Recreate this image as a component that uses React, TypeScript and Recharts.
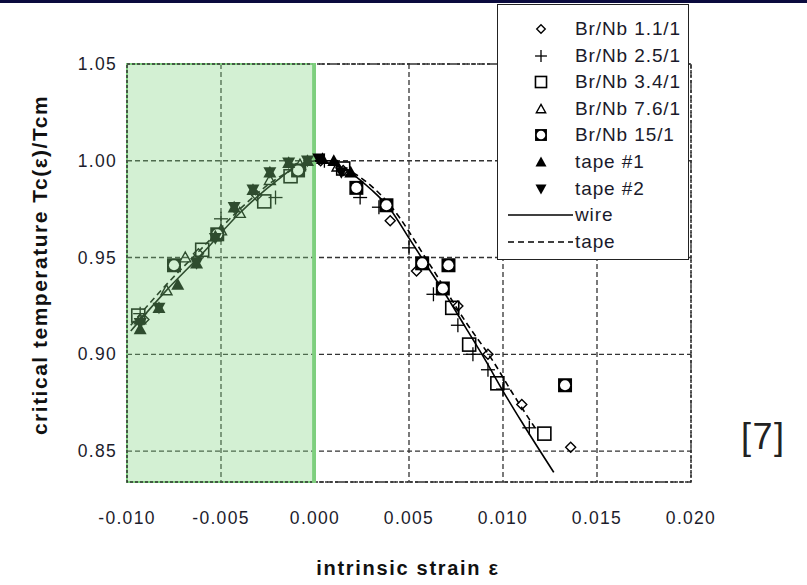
import React from "react";
import {
  ScatterChart,
  Scatter,
  XAxis,
  YAxis,
  CartesianGrid,
  ReferenceArea,
} from "recharts";

// Br/Nb 1.1/1 (open diamonds)
const br11X = [-0.0091, -0.0062, -0.0031, -0.001, 0.0003, 0.0015, 0.004, 0.0054, 0.0076, 0.0092, 0.011, 0.0136];
const br11Y = [0.918, 0.952, 0.982, 0.996, 1.0, 0.995, 0.969, 0.943, 0.925, 0.9, 0.874, 0.852];
// Br/Nb 2.5/1 (plus)
const br25X = [-0.0093, -0.005, -0.0021, -0.0005, 0.0005, 0.0024, 0.0034, 0.005, 0.0063, 0.0076, 0.0084, 0.0092, 0.01, 0.0114];
const br25Y = [0.921, 0.97, 0.981, 0.998, 1.0, 0.981, 0.976, 0.955, 0.931, 0.915, 0.9, 0.892, 0.882, 0.862];
// Br/Nb 3.4/1 (open squares)
const br34X = [-0.0094, -0.006, -0.0027, -0.0013, 0.0015, 0.0073, 0.0082, 0.0097, 0.0122];
const br34Y = [0.92, 0.954, 0.979, 0.992, 0.996, 0.924, 0.905, 0.885, 0.859];
// Br/Nb 7.6/1 (open triangles)
const br76X = [-0.0093, -0.0079, -0.0069, -0.005, -0.004, -0.0024, -0.0008, 0.0012];
const br76Y = [0.918, 0.933, 0.95, 0.964, 0.973, 0.99, 0.998, 0.997];
// Br/Nb 15/1 (bold squares)
const br15X = [-0.0075, -0.0052, -0.0009, 0.0022, 0.0038, 0.0057, 0.0068, 0.0071, 0.0133];
const br15Y = [0.946, 0.962, 0.995, 0.986, 0.977, 0.947, 0.934, 0.946, 0.884];
// tape #1 (filled up triangles)
const tape1X = [-0.0093, -0.0083, -0.0073, -0.0063, -0.0053, -0.0043, -0.0033, -0.0024, -0.0014, -0.0004, 0.0004, 0.001, 0.0019];
const tape1Y = [0.913, 0.924, 0.936, 0.947, 0.961, 0.976, 0.985, 0.994, 0.999, 1.0, 1.001, 1.0, 0.994];
// tape #2 (filled down triangles)
const tape2X = [-0.0093, -0.0083, -0.0063, -0.0053, -0.0043, -0.0033, -0.0024, -0.0014, -0.0004, 0.0002, 0.0014];
const tape2Y = [0.916, 0.924, 0.947, 0.96, 0.976, 0.985, 0.994, 0.999, 1.0, 1.001, 0.994];

// fitted curves: compressive side and tensile side
const wireLeftX = [-0.0098, -0.008, -0.006, -0.004, -0.002, -0.001, 0];
const wireLeftY = [0.912, 0.932, 0.952, 0.973, 0.99, 0.997, 1.0];
const wireRightX = [0, 0.001, 0.002, 0.003, 0.004, 0.005, 0.006, 0.007, 0.008, 0.009, 0.01, 0.011, 0.0127];
const wireRightY = [1.0, 0.998, 0.993, 0.985, 0.975, 0.96, 0.945, 0.93, 0.914, 0.898, 0.881, 0.865, 0.839];
const tapeLeftX = [-0.0098, -0.008, -0.006, -0.004, -0.002, 0];
const tapeLeftY = [0.915, 0.935, 0.955, 0.975, 0.991, 1.0];
const tapeRightX = [0, 0.002, 0.004, 0.006, 0.008, 0.0095, 0.0105, 0.0117];
const tapeRightY = [1.0, 0.994, 0.977, 0.948, 0.917, 0.896, 0.88, 0.862];

const xTicks = [-0.01, -0.005, 0, 0.005, 0.01, 0.015, 0.02];
const yTicks = [0.85, 0.9, 0.95, 1.0, 1.05];

const legendLabels = ["Br/Nb 1.1/1", "Br/Nb 2.5/1", "Br/Nb 3.4/1", "Br/Nb 7.6/1", "Br/Nb 15/1", "tape #1", "tape #2", "wire", "tape"];
const legendKinds = ["diamond", "plus", "square", "triOpen", "bold", "triUp", "triDown", "wire", "tape"];

const zip = (xs: number[], ys: number[]) => xs.map((x, i) => ({ x, y: ys[i] }));

const DARK_GREEN = "#2e4c2e";
const LIGHT_GREEN = "#d3f0d3";

function Marker({ kind, cx, cy, color, bg, s = 1 }: any) {
  if (cx == null || cy == null) return <g />;
  switch (kind) {
    case "diamond": {
      const r = 5 * s;
      return <polygon points={`${cx},${cy - r} ${cx + r},${cy} ${cx},${cy + r} ${cx - r},${cy}`} fill="none" stroke={color} strokeWidth={1.4} />;
    }
    case "plus": {
      const r = 7 * s;
      return (
        <g stroke={color} strokeWidth={1.3}>
          <line x1={cx - r} y1={cy} x2={cx + r} y2={cy} />
          <line x1={cx} y1={cy - r} x2={cx} y2={cy + r} />
        </g>
      );
    }
    case "square": {
      const r = 6.5 * s;
      return <rect x={cx - r} y={cy - r} width={2 * r} height={2 * r} fill="none" stroke={color} strokeWidth={1.6} />;
    }
    case "triOpen": {
      const r = 5.5 * s;
      return <polygon points={`${cx},${cy - r} ${cx + r},${cy + r * 0.8} ${cx - r},${cy + r * 0.8}`} fill="none" stroke={color} strokeWidth={1.4} />;
    }
    case "bold": {
      const r = 7 * s;
      return (
        <g>
          <rect x={cx - r} y={cy - r} width={2 * r} height={2 * r} fill={color} />
          <circle cx={cx} cy={cy} r={r * 0.72} fill={bg} />
        </g>
      );
    }
    case "triUp": {
      const r = 6.5 * s;
      return <polygon points={`${cx},${cy - r} ${cx + r},${cy + r * 0.8} ${cx - r},${cy + r * 0.8}`} fill={color} />;
    }
    case "triDown": {
      const r = 6.5 * s;
      return <polygon points={`${cx},${cy + r} ${cx + r},${cy - r * 0.8} ${cx - r},${cy - r * 0.8}`} fill={color} />;
    }
    default:
      return <g />;
  }
}

const shapeFor = (kind: string) => (props: any) => {
  const left = props.payload && props.payload.x < 0;
  return (
    <Marker
      kind={kind}
      cx={props.cx}
      cy={props.cy}
      color={left ? DARK_GREEN : "#000"}
      bg={left ? LIGHT_GREEN : "#fff"}
    />
  );
};

const noDot = () => <g />;

const tickStyle = { fill: "#1c1c2c", fontSize: 17.5, fontFamily: "Arial, 'Liberation Sans', sans-serif", letterSpacing: 1.3 };

export default function App() {
  return (
    <div style={{ position: "absolute", left: 0, top: 0, width: 807, height: 585, background: "#fff", fontFamily: "Arial, 'Liberation Sans', sans-serif", overflow: "hidden" }}>
      <ScatterChart width={807} height={585} margin={{ top: 64, right: 116, bottom: 73, left: 67 }}>
        <CartesianGrid stroke="#333" strokeDasharray="5 3" strokeWidth={1.3} />
        <ReferenceArea x1={-0.01} x2={0} y1={0.834} y2={1.05} fill="#81d481" fillOpacity={0.35} stroke="#7ecf7e" strokeWidth={2} />
        <ReferenceArea x1={-0.01} x2={0.02} y1={0.834} y2={1.05} fill="none" stroke="#333" strokeDasharray="3 2" strokeWidth={1.5} />
        <ReferenceArea x1={-0.0001} x2={0} y1={0.834} y2={1.05} fill="none" stroke="#7ecf7e" strokeWidth={2} />
        <XAxis
          type="number"
          dataKey="x"
          domain={[-0.01, 0.02]}
          ticks={xTicks}
          tickFormatter={(v: number) => v.toFixed(3)}
          axisLine={false}
          tickLine={false}
          tickMargin={24}
          height={30}
          tick={tickStyle}
        />
        <YAxis
          type="number"
          dataKey="y"
          domain={[0.834, 1.05]}
          ticks={yTicks}
          tickFormatter={(v: number) => v.toFixed(2)}
          axisLine={false}
          tickLine={false}
          tickMargin={4}
          width={60}
          tick={tickStyle}
        />
        <Scatter data={zip(wireLeftX, wireLeftY)} line={{ stroke: DARK_GREEN, strokeWidth: 1.6 }} lineJointType="monotoneX" shape={noDot} isAnimationActive={false} />
        <Scatter data={zip(tapeLeftX, tapeLeftY)} line={{ stroke: DARK_GREEN, strokeWidth: 1.6, strokeDasharray: "6 4" }} lineJointType="monotoneX" shape={noDot} isAnimationActive={false} />
        <Scatter data={zip(wireRightX, wireRightY)} line={{ stroke: "#000", strokeWidth: 1.6 }} lineJointType="monotoneX" shape={noDot} isAnimationActive={false} />
        <Scatter data={zip(tapeRightX, tapeRightY)} line={{ stroke: "#000", strokeWidth: 1.6, strokeDasharray: "6 4" }} lineJointType="monotoneX" shape={noDot} isAnimationActive={false} />
        <Scatter name="Br/Nb 1.1/1" data={zip(br11X, br11Y)} shape={shapeFor("diamond")} isAnimationActive={false} />
        <Scatter name="Br/Nb 2.5/1" data={zip(br25X, br25Y)} shape={shapeFor("plus")} isAnimationActive={false} />
        <Scatter name="Br/Nb 3.4/1" data={zip(br34X, br34Y)} shape={shapeFor("square")} isAnimationActive={false} />
        <Scatter name="Br/Nb 7.6/1" data={zip(br76X, br76Y)} shape={shapeFor("triOpen")} isAnimationActive={false} />
        <Scatter name="Br/Nb 15/1" data={zip(br15X, br15Y)} shape={shapeFor("bold")} isAnimationActive={false} />
        <Scatter name="tape #1" data={zip(tape1X, tape1Y)} shape={shapeFor("triUp")} isAnimationActive={false} />
        <Scatter name="tape #2" data={zip(tape2X, tape2Y)} shape={shapeFor("triDown")} isAnimationActive={false} />
      </ScatterChart>

      {/* top banner rule */}
      <div style={{ position: "absolute", left: 0, top: 0, width: 807, height: 3, background: "#0b0b3e" }} />

      {/* legend */}
      <div style={{ position: "absolute", left: 497, top: 4, width: 192, height: 256, background: "#fff", border: "1.5px solid #222", boxSizing: "border-box" }}>
        {legendLabels.map((label, i) => {
          const kind = legendKinds[i];
          const cy = 24 + i * 26.6;
          return (
            <div key={label} style={{ position: "absolute", left: 0, top: cy - 13, height: 26, width: 190 }}>
              <svg width={80} height={26} style={{ position: "absolute", left: 0, top: 0 }}>
                {kind === "wire" && <line x1={10} y1={13} x2={75} y2={13} stroke="#000" strokeWidth={1.5} />}
                {kind === "tape" && <line x1={10} y1={13} x2={75} y2={13} stroke="#000" strokeWidth={1.5} strokeDasharray="6 4" />}
                {kind !== "wire" && kind !== "tape" && <Marker kind={kind} cx={43} cy={13} color="#000" bg="#fff" s={0.85} />}
              </svg>
              <span style={{ position: "absolute", left: 77, top: 2, fontSize: 19, letterSpacing: 0.9, color: "#1a1a2a", whiteSpace: "nowrap", lineHeight: "22px" }}>
                {label}
              </span>
            </div>
          );
        })}
      </div>

      {/* axis titles */}
      <div style={{ position: "absolute", left: 40, top: 265, transform: "translate(-50%, -50%) rotate(-90deg)", fontSize: 21, fontWeight: "bold", letterSpacing: 1.5, whiteSpace: "nowrap", color: "#111" }}>
        critical temperature Tc(ε)/Tcm
      </div>
      <div style={{ position: "absolute", left: 408, top: 568, transform: "translate(-50%, -50%)", fontSize: 20, fontWeight: "bold", letterSpacing: 1.7, whiteSpace: "nowrap", color: "#111" }}>
        intrinsic strain ε
      </div>
      <div style={{ position: "absolute", left: 741, top: 416, fontSize: 36, letterSpacing: 1.5, color: "#222", whiteSpace: "nowrap" }}>[7]</div>
    </div>
  );
}
